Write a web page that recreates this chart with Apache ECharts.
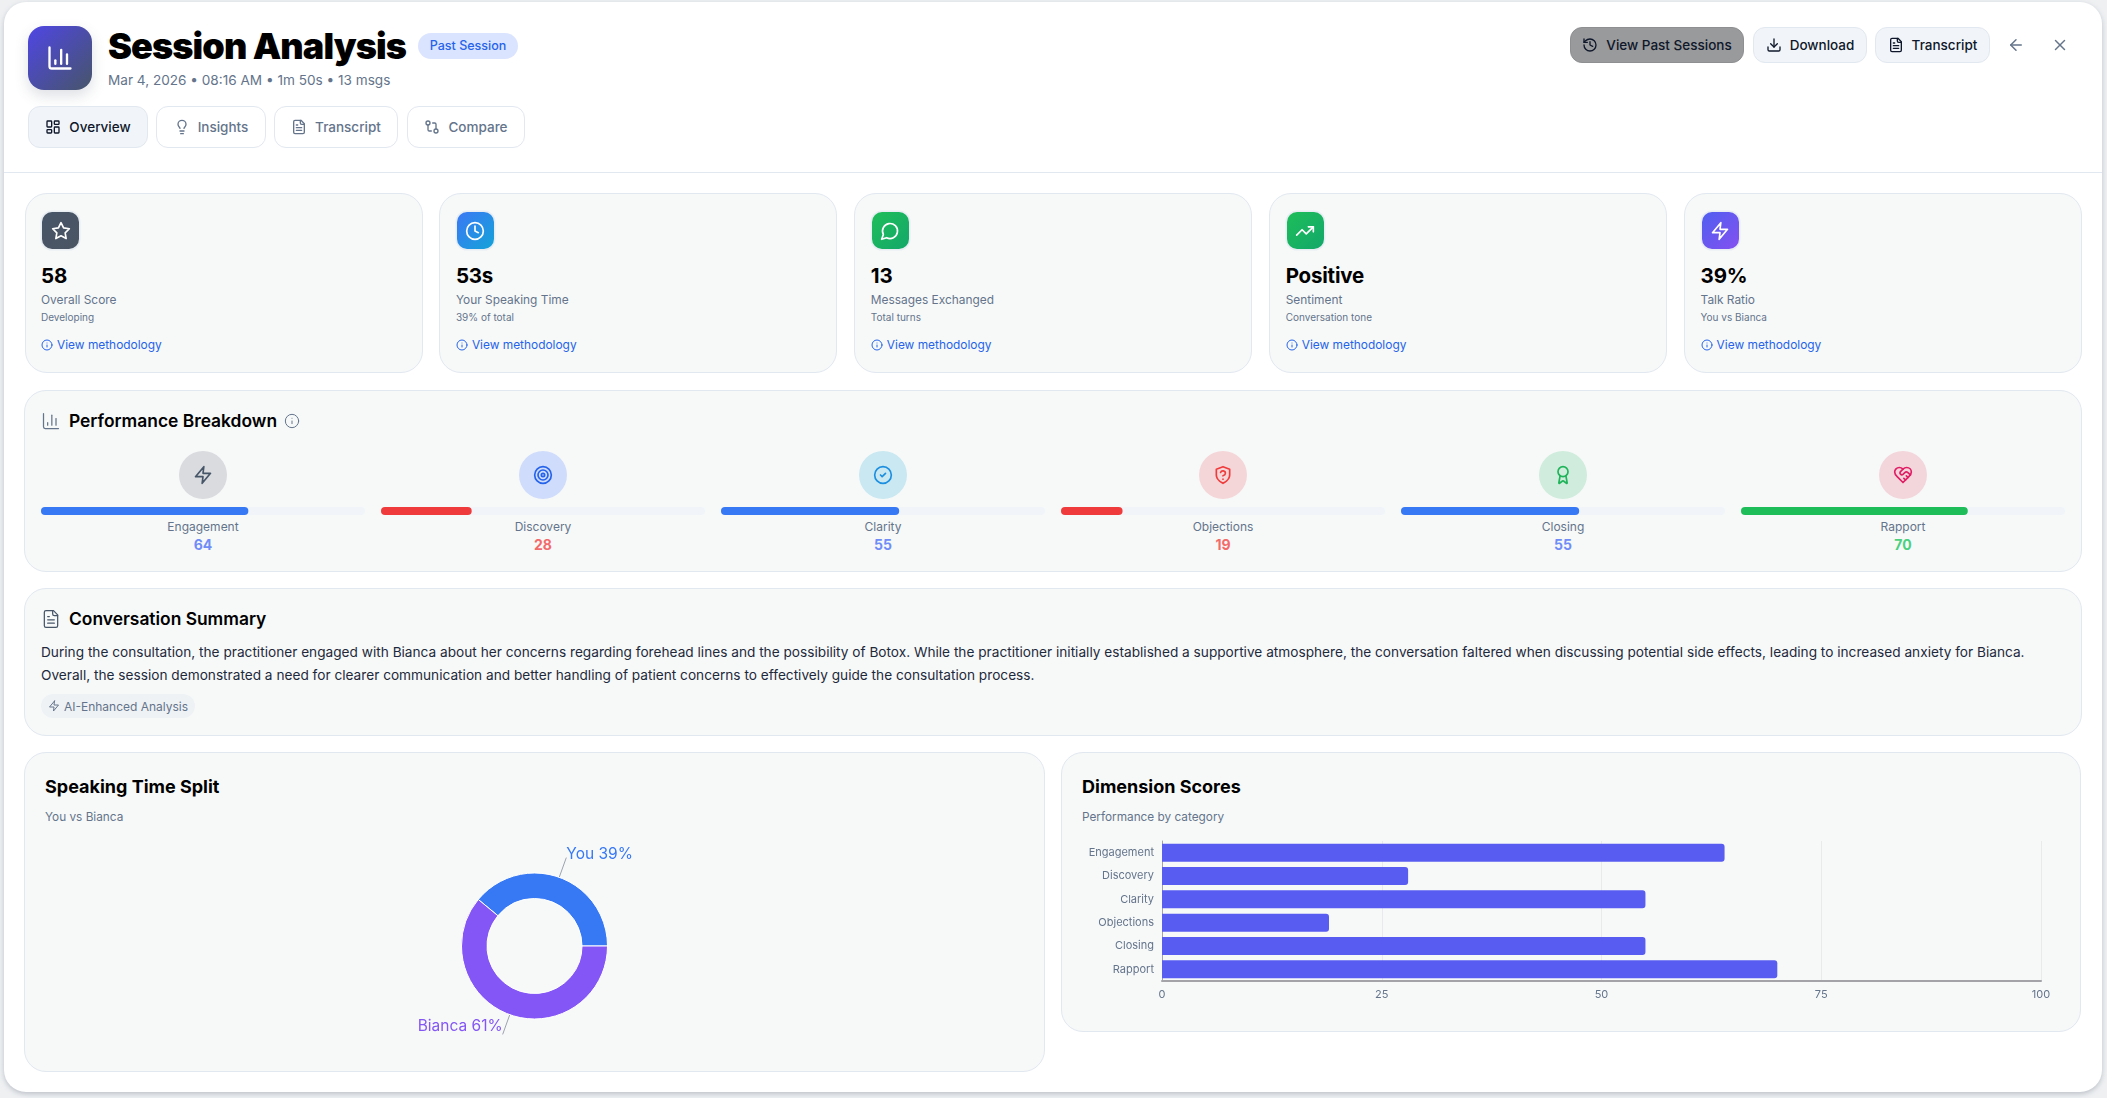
<!DOCTYPE html>
<html>
<head>
<meta charset="utf-8">
<title>Session Analysis</title>
<script src="https://cdn.jsdelivr.net/npm/echarts@6/dist/echarts.min.js"></script>
<style>
    * { box-sizing: border-box; }
    html, body { margin: 0; width: 2107px; height: 1098px; overflow: hidden; background: #eef0f2; font-family: Inter, sans-serif; color: #000; }
    svg.ic { fill: none; stroke: currentColor; stroke-width: 2; stroke-linecap: round; stroke-linejoin: round; display: block; }
    .abs { position: absolute; white-space: nowrap; }
    .panel { position: absolute; left: 4px; top: 2px; width: 2098px; height: 1090px; background: #fff; border-radius: 22px; box-shadow: 0 2px 5px rgba(100, 110, 125, .35); }
    .logo { left: 28px; top: 26px; width: 64px; height: 64px; border-radius: 16px; background: linear-gradient(135deg, #4f46e5, #475569); color: #fff; display: flex; align-items: center; justify-content: center; box-shadow: 0 6px 14px rgba(71, 85, 105, .18); }
    .title { left: 108px; top: 24px; font-size: 36px; line-height: 44px; font-weight: 900; letter-spacing: -.9px; }
    .badge { left: 418px; top: 33px; width: 100px; height: 26px; border-radius: 13px; background: #dbe4fe; color: #2563eb; font-size: 12.5px; font-weight: 500; line-height: 26px; text-align: center; }
    .sub { left: 108px; top: 70px; font-size: 13.6px; line-height: 20px; color: #64748b; }
    .btn { display: flex; align-items: center; justify-content: center; gap: 8px; border: 1px solid #e2e8f0; font-size: 13.5px; font-weight: 500; }
    .tab { top: 106px; height: 42px; border-radius: 12px; background: #fff; color: #64748b; }
    .tab.on { background: #f1f5f9; color: #0f172a; }
    .act { top: 27px; height: 36px; border-radius: 12px; background: #f1f5f9; color: #0f172a; }
    .act.dim { background: #999a9c; border-color: #8e8f91; }
    .rule { left: 4px; top: 172px; width: 2098px; height: 1px; background: #e2e8f0; }
    .card { position: absolute; background: #f7f9f9; border: 1px solid #e2e8f0; border-radius: 22px; }
    .kicon { left: 42px; top: 212px; width: 37px; height: 37px; border-radius: 10px; color: #fff; display: flex; align-items: center; justify-content: center; box-shadow: 0 0 0 1.5px #e8edf3; }
    .kval { font-size: 20.5px; line-height: 30px; font-weight: 700; letter-spacing: -.2px; }
    .klab { font-size: 11.9px; line-height: 18px; color: #64748b; }
    .ksub { font-size: 10px; line-height: 14px; color: #64748b; }
    .klink { font-size: 11.9px; line-height: 18px; color: #2563eb; display: flex; align-items: center; gap: 4px; }
    .h2 { font-size: 17.4px; line-height: 24px; font-weight: 600; }
    .h3 { font-size: 18px; line-height: 24px; font-weight: 700; }
    .note { font-size: 11.8px; line-height: 16px; color: #64748b; }
    .circle { width: 48px; height: 48px; top: 451px; border-radius: 50%; display: flex; align-items: center; justify-content: center; }
    .mname { top: 518px; width: 200px; text-align: center; font-size: 12px; line-height: 18px; color: #64748b; }
    .mscore { top: 535px; width: 200px; text-align: center; font-size: 14px; line-height: 20px; font-weight: 700; }
    .para { left: 41px; top: 641px; width: 2030px; font-size: 13.66px; line-height: 23px; color: #1e293b; white-space: normal; }
    .chip { left: 41px; top: 694px; width: 154px; height: 24px; border-radius: 12px; background: #eff2f5; color: #64748b; font-size: 12px; display: flex; align-items: center; justify-content: center; gap: 4px; }
    #progress, #split, #dims { position: absolute; }
</style>
</head>
<body>
<div id="app"></div>
<div id="progress" style="left:24px;top:500px;width:2058px;height:22px"></div>
<div id="split" style="left:300px;top:830px;width:500px;height:230px"></div>
<div id="dims" style="left:1062px;top:830px;width:1018px;height:190px"></div>
<script>
const categories = ['Engagement', 'Discovery', 'Clarity', 'Objections', 'Closing', 'Rapport'];
const scores = [64, 28, 55, 19, 55, 70];
const speakers = ['You', 'Bianca'];
const speakerShares = [39, 61];
const axisTicks = [0, 25, 50, 75, 100];

const kpiValues = ['58', '53s', '13', 'Positive', '39%'];
const kpiLabels = ['Overall Score', 'Your Speaking Time', 'Messages Exchanged', 'Sentiment', 'Talk Ratio'];
const kpiNotes = ['Developing', '39% of total', 'Total turns', 'Conversation tone', 'You vs Bianca'];

const summaryLines = [
    'During the consultation, the practitioner engaged with Bianca about her concerns regarding forehead lines and the possibility of Botox. While the practitioner initially established a supportive atmosphere, the conversation faltered when discussing potential side effects, leading to increased anxiety for Bianca.',
    'Overall, the session demonstrated a need for clearer communication and better handling of patient concerns to effectively guide the consultation process.'
];

// lucide shapes
const icons = {
    chart: '<path d="M3 3v16a2 2 0 0 0 2 2h16"/><path d="M18 17V9"/><path d="M13 17V5"/><path d="M8 17v-3"/>',
    star: '<polygon points="12 2 15.09 8.26 22 9.27 17 14.14 18.18 21.02 12 17.77 5.82 21.02 7 14.14 2 9.27 8.91 8.26 12 2"/>',
    clock: '<circle cx="12" cy="12" r="10"/><polyline points="12 6 12 12 16 14"/>',
    message: '<path d="M7.9 20A9 9 0 1 0 4 16.1L2 22Z"/>',
    trend: '<polyline points="22 7 13.5 15.5 8.5 10.5 2 17"/><polyline points="16 7 22 7 22 13"/>',
    zap: '<path d="M13 2 3 14h9l-1 8 10-12h-9l1-8z"/>',
    info: '<circle cx="12" cy="12" r="10"/><path d="M12 16v-4"/><path d="M12 8h.01"/>',
    grid: '<rect width="7" height="9" x="3" y="3" rx="1"/><rect width="7" height="5" x="14" y="3" rx="1"/><rect width="7" height="9" x="14" y="12" rx="1"/><rect width="7" height="5" x="3" y="16" rx="1"/>',
    bulb: '<path d="M15 14c.2-1 .7-1.7 1.5-2.5 1-.9 1.5-2.2 1.5-3.5A6 6 0 0 0 6 8c0 1 .2 2.2 1.5 3.5.7.7 1.3 1.5 1.5 2.5"/><path d="M9 18h6"/><path d="M10 22h4"/>',
    file: '<path d="M15 2H6a2 2 0 0 0-2 2v16a2 2 0 0 0 2 2h12a2 2 0 0 0 2-2V7Z"/><path d="M14 2v4a2 2 0 0 0 2 2h4"/><path d="M10 9H8"/><path d="M16 13H8"/><path d="M16 17H8"/>',
    compare: '<circle cx="18" cy="18" r="3"/><circle cx="6" cy="6" r="3"/><path d="M13 6h3a2 2 0 0 1 2 2v7"/><path d="M11 18H8a2 2 0 0 1-2-2V9"/>',
    history: '<path d="M3 12a9 9 0 1 0 9-9 9.75 9.75 0 0 0-6.74 2.74L3 8"/><path d="M3 3v5h5"/><path d="M12 7v5l4 2"/>',
    download: '<path d="M21 15v4a2 2 0 0 1-2 2H5a2 2 0 0 1-2-2v-4"/><polyline points="7 10 12 15 17 10"/><line x1="12" x2="12" y1="15" y2="3"/>',
    back: '<path d="m12 19-7-7 7-7"/><path d="M19 12H5"/>',
    close: '<path d="M18 6 6 18"/><path d="m6 6 12 12"/>',
    target: '<circle cx="12" cy="12" r="10"/><circle cx="12" cy="12" r="6"/><circle cx="12" cy="12" r="2"/>',
    check: '<circle cx="12" cy="12" r="10"/><path d="m9 12 2 2 4-4"/>',
    shield: '<path d="M12 22s8-4 8-10V5l-8-3-8 3v7c0 6 8 10 8 10"/><path d="M9.1 9a3 3 0 0 1 5.82 1c0 2-3 3-3 3"/><path d="M12 17h.01"/>',
    award: '<path d="m15.477 12.89 1.515 8.526a.5.5 0 0 1-.81.47l-3.58-2.687a1 1 0 0 0-1.197 0l-3.586 2.686a.5.5 0 0 1-.81-.469l1.514-8.526"/><circle cx="12" cy="8" r="6"/>',
    heart: '<path d="M19 14c1.49-1.46 3-3.21 3-5.5A5.5 5.5 0 0 0 16.5 3c-1.76 0-3 .5-4.5 2-1.5-1.5-2.74-2-4.5-2A5.5 5.5 0 0 0 2 8.5c0 2.3 1.5 4.05 3 5.5l7 7Z"/><path d="M12 5 9.04 7.96a2.17 2.17 0 0 0 0 3.08c.82.82 2.13.85 3 .07l2.07-1.9a2.82 2.82 0 0 1 3.79 0l2.96 2.66"/><path d="m18 15-2-2"/><path d="m15 18-2-2"/>'
};

function icon(name, size, width) {
    return `<svg class="ic" width="${size}" height="${size}" viewBox="0 0 24 24" style="stroke-width:${width || 2}">${icons[name]}</svg>`;
}

function scoreColor(v) {
    if (v >= 70) return '#1fbd5a';
    if (v >= 40) return '#3778f5';
    return '#ef3b3b';
}

function scoreTextColor(v) {
    if (v >= 70) return '#4bd07f';
    if (v >= 40) return '#6f8cf7';
    return '#f36a6a';
}

const kpiIcons = ['star', 'clock', 'message', 'trend', 'zap'];
const kpiFills = ['linear-gradient(135deg,#475569,#4b5563)', 'linear-gradient(135deg,#3b78f5,#14a3d8)', 'linear-gradient(135deg,#1fbd5a,#12a86a)', 'linear-gradient(135deg,#1fbd5a,#12a86a)', 'linear-gradient(135deg,#4f5ff0,#8450f0)'];
const metricIcons = ['zap', 'target', 'check', 'shield', 'award', 'heart'];
const metricBacks = ['#d9dbde', '#d0dcfb', '#c9e8f1', '#f5d6d8', '#d0ecdc', '#f3d6dc'];
const metricStrokes = ['#475569', '#2563eb', '#1d8fe0', '#ef3b3b', '#1fb35a', '#e11d63'];

let html = '<div class="panel"></div>';
html += `<div class="abs logo">${icon('chart', 28)}</div>`;
html += '<div class="abs title">Session Analysis</div>';
html += '<div class="abs badge">Past Session</div>';
html += '<div class="abs sub">Mar 4, 2026 • 08:16 AM • 1m 50s • 13 msgs</div>';

[['Overview', 'grid', 28, 120, ' on'], ['Insights', 'bulb', 156, 110, ''], ['Transcript', 'file', 274, 124, ''], ['Compare', 'compare', 407, 118, '']].forEach(t => {
    html += `<div class="abs btn tab${t[4]}" style="left:${t[2]}px;width:${t[3]}px">${icon(t[1], 16)}${t[0]}</div>`;
});
[['View Past Sessions', 'history', 1570, 174, ' dim'], ['Download', 'download', 1753, 114, ''], ['Transcript', 'file', 1875, 115, '']].forEach(t => {
    html += `<div class="abs btn act${t[4]}" style="left:${t[2]}px;width:${t[3]}px">${icon(t[1], 16)}${t[0]}</div>`;
});
html += `<div class="abs" style="left:2007px;top:36px;color:#64748b">${icon('back', 18)}</div>`;
html += `<div class="abs" style="left:2051px;top:36px;color:#64748b">${icon('close', 18)}</div>`;
html += '<div class="abs rule"></div>';

kpiValues.forEach((v, i) => {
    const x = 24.5 + i * 414.9;
    html += `<div class="card" style="left:${x}px;top:193px;width:398px;height:180px"></div>`;
    html += `<div class="abs kicon" style="left:${x + 17.5}px;background:${kpiFills[i]}">${icon(kpiIcons[i], 20)}</div>`;
    html += `<div class="abs kval" style="left:${x + 16.5}px;top:261px">${v}</div>`;
    html += `<div class="abs klab" style="left:${x + 16.5}px;top:291px">${kpiLabels[i]}</div>`;
    html += `<div class="abs ksub" style="left:${x + 16.5}px;top:310px">${kpiNotes[i]}</div>`;
    html += `<div class="abs klink" style="left:${x + 16.5}px;top:336px">${icon('info', 12)}View methodology</div>`;
});

html += '<div class="card" style="left:24px;top:390px;width:2058px;height:182px"></div>';
html += `<div class="abs" style="left:41px;top:411px;color:#64748b">${icon('chart', 20, 1.5)}</div>`;
html += '<div class="abs h2" style="left:69px;top:409px">Performance Breakdown</div>';
html += `<div class="abs" style="left:284px;top:413px;color:#64748b">${icon('info', 16, 1.5)}</div>`;

categories.forEach((c, i) => {
    const cx = 203 + i * 340;
    html += `<div class="abs circle" style="left:${cx - 24}px;background:${metricBacks[i]};color:${metricStrokes[i]}">${icon(metricIcons[i], 20)}</div>`;
    html += `<div class="abs mname" style="left:${cx - 100}px">${c}</div>`;
    html += `<div class="abs mscore" style="left:${cx - 100}px;color:${scoreTextColor(scores[i])}">${scores[i]}</div>`;
});

html += '<div class="card" style="left:24px;top:588px;width:2058px;height:148px"></div>';
html += `<div class="abs" style="left:41px;top:609px;color:#475569">${icon('file', 20, 1.5)}</div>`;
html += '<div class="abs h2" style="left:69px;top:607px">Conversation Summary</div>';
html += `<div class="abs para">${summaryLines.join('<br>')}</div>`;
html += `<div class="abs chip">${icon('zap', 12)}AI-Enhanced Analysis</div>`;

html += '<div class="card" style="left:24px;top:752px;width:1021px;height:320px"></div>';
html += '<div class="abs h3" style="left:45px;top:775px">Speaking Time Split</div>';
html += '<div class="abs note" style="left:45px;top:809px">You vs Bianca</div>';
html += '<div class="card" style="left:1061px;top:752px;width:1020px;height:280px"></div>';
html += '<div class="abs h3" style="left:1082px;top:775px">Dimension Scores</div>';
html += '<div class="abs note" style="left:1082px;top:809px">Performance by category</div>';
document.getElementById('app').innerHTML = html;

// progress rows, one small grid per dimension
const progressChart = echarts.init(document.getElementById('progress'));
progressChart.setOption({
    animation: false,
    grid: categories.map((c, i) => ({ left: 17 + i * 340, top: 7, width: 324, height: 8 })),
    xAxis: categories.map((c, i) => ({ gridIndex: i, type: 'value', min: 0, max: 100, show: false })),
    yAxis: categories.map((c, i) => ({ gridIndex: i, type: 'category', data: [c], show: false })),
    series: categories.map((c, i) => ({
        type: 'bar',
        xAxisIndex: i,
        yAxisIndex: i,
        barWidth: 8,
        data: [scores[i]],
        showBackground: true,
        backgroundStyle: { color: '#f1f5f9', borderRadius: 4 },
        itemStyle: { color: scoreColor(scores[i]), borderRadius: 4 }
    }))
});

const splitColors = ['#3778f5', '#8456f5'];
const splitLabelLift = [-3, -8];
const splitChart = echarts.init(document.getElementById('split'));
splitChart.setOption({
    animation: false,
    series: [{
        type: 'pie',
        center: [234.5, 116],
        radius: [47.5, 73],
        startAngle: 140.4,
        data: speakers.map((s, i) => ({
            name: s,
            value: speakerShares[i],
            itemStyle: { color: splitColors[i] },
            label: { color: splitColors[i] }
        })),
        itemStyle: { borderColor: '#fff', borderWidth: 1 },
        label: { formatter: '{b} {c}%', fontFamily: 'Inter', fontSize: 15.5, distanceToLabelLine: 0 },
        labelLine: { length: 21, length2: 0, lineStyle: { color: '#9ca3af', width: 1 } },
        labelLayout: params => ({ dy: splitLabelLift[params.dataIndex] })
    }]
});

const dimsChart = echarts.init(document.getElementById('dims'));
dimsChart.setOption({
    animation: false,
    grid: { left: 100, right: 39, top: 11, height: 140 },
    xAxis: {
        type: 'value',
        min: axisTicks[0],
        max: axisTicks[axisTicks.length - 1],
        interval: axisTicks[1] - axisTicks[0],
        axisLine: { show: true, lineStyle: { color: '#a3a3a8', width: 2 } },
        axisTick: { show: false },
        axisLabel: { color: '#64748b', fontFamily: 'Inter', fontSize: 11, margin: 8 },
        splitLine: { show: true, lineStyle: { color: '#e8eaec', width: 1 } }
    },
    yAxis: {
        type: 'category',
        inverse: true,
        data: categories,
        axisLine: { show: true, lineStyle: { color: '#a3a3a8', width: 1 } },
        axisTick: { show: false },
        axisLabel: { color: '#64748b', fontFamily: 'Inter', fontSize: 11, margin: 8, padding: [2, 0, 0, 0] }
    },
    series: [{
        type: 'bar',
        barWidth: 18,
        data: scores,
        itemStyle: { color: '#595cf0', borderRadius: [0, 3, 3, 0] }
    }]
});
</script>
</body>
</html>
